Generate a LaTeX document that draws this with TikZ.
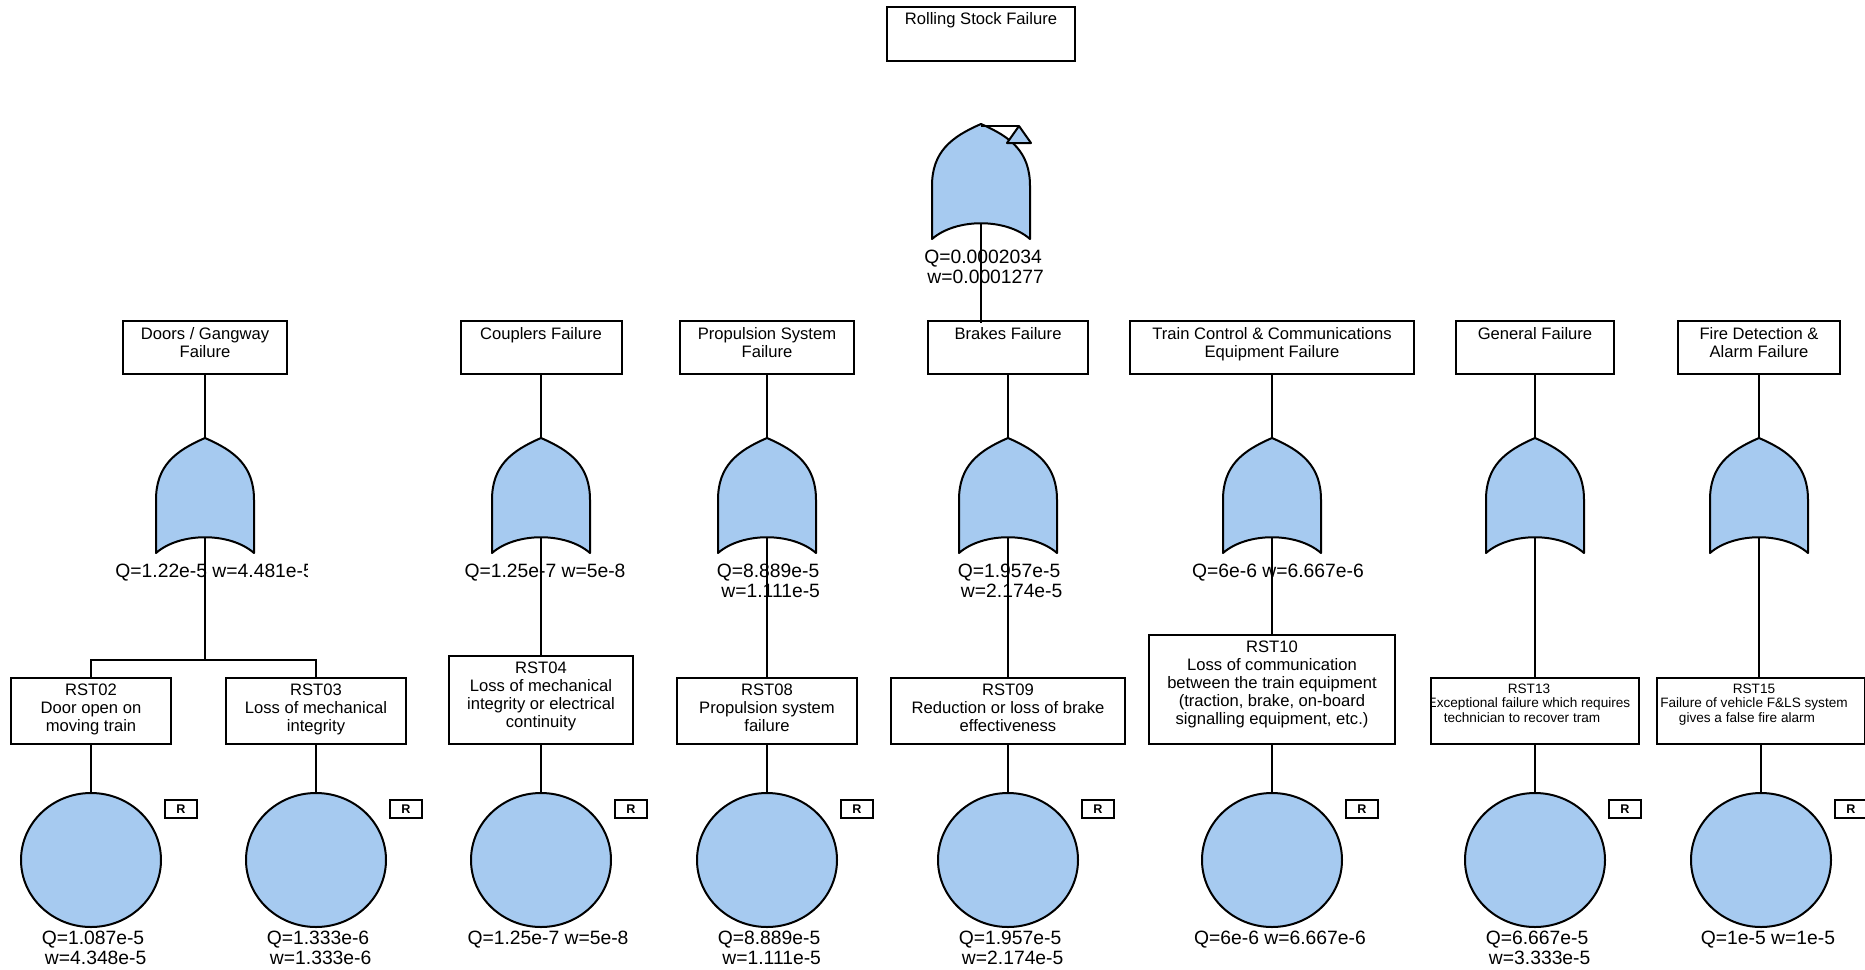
\documentclass[tikz,border=0pt]{standalone}
\usepackage{fontspec}
\setmainfont{Liberation Sans}
\usetikzlibrary{shapes.geometric,backgrounds}
\definecolor{evfill}{HTML}{A6CAF0}

% leading space in front of the w= line of a probability label
\newcommand\wsp{\hspace*{.278em}}

% OR gate: #1 name, (#2,#3) apex; defines #1-in (apex) and #1-out (bottom)
\newcommand\orgate[3]{%
  \begin{scope}[shift={(#2,#3)}]
    \draw[gateshape] (0,0) .. controls (-30,13) and (-49,28) .. (-49,62) -- (-49,115)
      .. controls (-25,94) and (25,94) .. (49,115) -- (49,62)
      .. controls (49,28) and (30,13) .. (0,0) -- cycle;
    \coordinate (#1-in) at (0,0);
    \coordinate (#1-out) at (0,99);
  \end{scope}}

\tikzset{
  wire/.style={draw=black, line width=1pt},
  gateshape/.style={draw=black, line width=1pt, fill=evfill, line join=round},
  evbox/.style={rectangle, draw=black, line width=1pt, fill=white, inner sep=0pt},
  boxtext/.style={font=\fontsize{8.3pt}{9pt}\selectfont, align=center, inner sep=0pt, anchor=north},
  smalltext/.style={font=\fontsize{6.8pt}{7.3pt}\selectfont, align=center, inner sep=0pt, anchor=north},
  qtext/.style={font=\fontsize{9.65pt}{10pt}\selectfont, align=center, inner sep=0pt, anchor=north},
  basic/.style={ellipse, draw=black, line width=1pt, fill=evfill, minimum width=70pt, minimum height=67pt, inner sep=0pt},
  rtag/.style={rectangle, draw=black, line width=1pt, fill=white, minimum width=16pt, minimum height=9pt, inner sep=0pt, font=\bfseries\fontsize{6.3pt}{7pt}\selectfont},
}

\begin{document}
\begin{tikzpicture}[x=0.5pt,y=-0.5pt]
\path[use as bounding box, fill=white] (0,0) rectangle (1865,970);

% ---------- top event ----------
\node[evbox, minimum width=94pt, minimum height=27pt] (top) at (981,34) {};
\node[boxtext] (topt) at ([yshift=-2.9pt]top.north) {Rolling Stock Failure};

\orgate{g0}{981}{124}
\coordinate (xfer) at (1019,126);
\draw[wire] (g0-in |- xfer) -- (xfer);
\draw[gateshape] (xfer) -- (1007,143) -- (1031,143) -- cycle;
\node[qtext] (q0) at (983,250) {Q=0.0002034\\\wsp w=0.0001277};

% ---------- intermediate events ----------
\node[evbox, minimum width=82pt,  minimum height=26.5pt] (d1) at (205,347.5) {};
\node[evbox, minimum width=80.5pt,minimum height=26.5pt] (d2) at (541,347.5) {};
\node[evbox, minimum width=87pt,  minimum height=26.5pt] (d3) at (767,347.5) {};
\node[evbox, minimum width=80pt,  minimum height=26.5pt] (d4) at (1008,347.5) {};
\node[evbox, minimum width=142pt, minimum height=26.5pt] (d5) at (1272,347.5) {};
\node[evbox, minimum width=79pt,  minimum height=26.5pt] (d6) at (1535,347.5) {};
\node[evbox, minimum width=81pt,  minimum height=26.5pt] (d7) at (1759,347.5) {};

\node[boxtext] (t1) at ([yshift=-3.4pt]d1.north) {Doors / Gangway\\Failure};
\node[boxtext] (t2) at ([yshift=-3.4pt]d2.north) {Couplers Failure};
\node[boxtext] (t3) at ([yshift=-3.4pt]d3.north) {Propulsion System\\Failure};
\node[boxtext] (t4) at ([yshift=-3.4pt]d4.north) {Brakes Failure};
\node[boxtext] (t5) at ([yshift=-3.4pt]d5.north) {Train Control \& Communications\\Equipment Failure};
\node[boxtext] (t6) at ([yshift=-3.4pt]d6.north) {General Failure};
\node[boxtext] (t7) at ([yshift=-3.4pt]d7.north) {Fire Detection \&\\Alarm Failure};

% bus joining the intermediate events, behind their boxes
\coordinate (bus) at ([yshift=-1.5pt]d1.north);
\begin{scope}[on background layer]
  \draw[wire] (bus) -- ([yshift=-1.5pt]d7.north);
\end{scope}

% ---------- OR gates ----------
\orgate{g1}{205}{438}
\orgate{g2}{541}{438}
\orgate{g3}{767}{438}
\orgate{g4}{1008}{438}
\orgate{g5}{1272}{438}
\orgate{g6}{1535}{438}
\orgate{g7}{1759}{438}

\begin{scope}
  \clip (98,540) rectangle (307,600);
  \node[qtext, anchor=north west] (q1) at (115,564) {Q=1.22e-5 w=4.481e-5};
\end{scope}
\node[qtext] (q2) at (545,564) {Q=1.25e-7 w=5e-8};
\node[qtext] (q3) at (768,564) {Q=8.889e-5\\\wsp w=1.111e-5};
\node[qtext] (q4) at (1009,564) {Q=1.957e-5\\\wsp w=2.174e-5};
\node[qtext] (q5) at (1278,564) {Q=6e-6 w=6.667e-6};

% ---------- basic event boxes ----------
\node[evbox, minimum width=80pt,  minimum height=33pt]   (b1) at (91,711) {};
\node[evbox, minimum width=90pt,  minimum height=33pt]   (b2) at (316,711) {};
\node[evbox, minimum width=92pt,  minimum height=44pt]   (b3) at (541,700) {};
\node[evbox, minimum width=90pt,  minimum height=33pt]   (b4) at (767,711) {};
\node[evbox, minimum width=117pt, minimum height=33pt]   (b5) at (1008,711) {};
\node[evbox, minimum width=123pt, minimum height=54.5pt] (b6) at (1272,689.5) {};
\node[evbox, minimum width=104pt, minimum height=33pt]   (b7) at (1535,711) {};
\node[evbox, minimum width=104pt, minimum height=33pt]   (b8) at (1761,711) {};

\node[boxtext] (s1) at ([yshift=-3.4pt]b1.north) {RST02\\Door open on\\moving train};
\node[boxtext] (s2) at ([yshift=-3.4pt]b2.north) {RST03\\Loss of mechanical\\integrity};
\node[boxtext] (s3) at ([yshift=-3.4pt]b3.north) {RST04\\Loss of mechanical\\integrity or electrical\\continuity};
\node[boxtext] (s4) at ([yshift=-3.4pt]b4.north) {RST08\\Propulsion system\\failure};
\node[boxtext] (s5) at ([yshift=-3.4pt]b5.north) {RST09\\Reduction or loss of brake\\effectiveness};
\node[boxtext] (s6) at ([yshift=-3.4pt]b6.north) {RST10\\Loss of communication\\between the train equipment\\(traction, brake, on-board\\signalling equipment, etc.)};
\begin{scope}
  \clip (b7.south west) rectangle (b7.north east);
  \node[smalltext] (s7) at ([xshift=-3pt,yshift=-3.2pt]b7.north)
    {RST13\\Exceptional failure which requires\hspace*{7pt}\\technician to recover tram\hspace*{7pt}};
\end{scope}
\begin{scope}
  \clip (b8.south west) rectangle (b8.north east);
  \node[smalltext] (s8) at ([xshift=-3.5pt,yshift=-3.2pt]b8.north)
    {RST15\\Failure of vehicle F\&LS system\hspace*{7pt}\\gives a false fire alarm\hspace*{7pt}};
\end{scope}

% ---------- basic events ----------
\node[basic] (e1) at (91,860) {};
\node[basic] (e2) at (316,860) {};
\node[basic] (e3) at (541,860) {};
\node[basic] (e4) at (767,860) {};
\node[basic] (e5) at (1008,860) {};
\node[basic] (e6) at (1272,860) {};
\node[basic] (e7) at (1535,860) {};
\node[basic] (e8) at (1761,860) {};

\foreach \e in {1,...,8}
  \node[rtag] (r\e) at ([xshift=45pt,yshift=25.5pt]e\e.center) {R};

\node[qtext] (p1) at ([xshift=1pt,yshift=-1.5pt]e1.south) {Q=1.087e-5\\\wsp w=4.348e-5};
\node[qtext] (p2) at ([xshift=1pt,yshift=-1.5pt]e2.south) {Q=1.333e-6\\\wsp w=1.333e-6};
\node[qtext] (p3) at ([xshift=3.5pt,yshift=-1.5pt]e3.south) {Q=1.25e-7 w=5e-8};
\node[qtext] (p4) at ([xshift=1pt,yshift=-1.5pt]e4.south) {Q=8.889e-5\\\wsp w=1.111e-5};
\node[qtext] (p5) at ([xshift=1pt,yshift=-1.5pt]e5.south) {Q=1.957e-5\\\wsp w=2.174e-5};
\node[qtext] (p6) at ([xshift=4pt,yshift=-1.5pt]e6.south) {Q=6e-6 w=6.667e-6};
\node[qtext] (p7) at ([xshift=1pt,yshift=-1.5pt]e7.south) {Q=6.667e-5\\\wsp w=3.333e-5};
\node[qtext] (p8) at ([xshift=3.5pt,yshift=-1.5pt]e8.south) {Q=1e-5 w=1e-5};

% ---------- connectors ----------
\draw[wire] (g0-out) -- (g0-out |- bus);
\foreach \k in {1,...,7}
  \draw[wire] (d\k.south) -- (g\k-in);

\coordinate (dbus) at ([yshift=8.5pt]b1.north);
\draw[wire] (g1-out) -- (g1-out |- dbus);
\draw[wire] (b1.north) -- (dbus) -| (b2.north);
\draw[wire] (g2-out) -- (g2-out |- b3.north);
\draw[wire] (g3-out) -- (g3-out |- b4.north);
\draw[wire] (g4-out) -- (g4-out |- b5.north);
\draw[wire] (g5-out) -- (g5-out |- b6.north);
\draw[wire] (g6-out) -- (g6-out |- b7.north);
\draw[wire] (g7-out) -- (g7-out |- b8.north);

\foreach \k in {1,...,8}
  \draw[wire] (b\k.south) -- (e\k.north);
\end{tikzpicture}
\end{document}
